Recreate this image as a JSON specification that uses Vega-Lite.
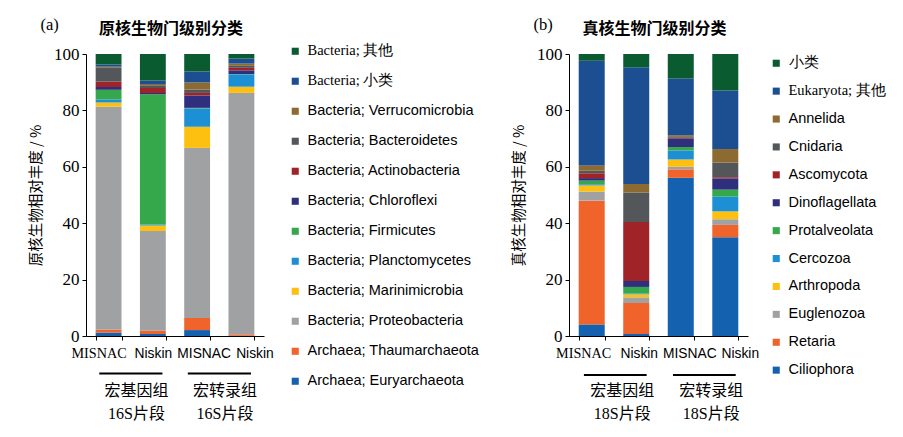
{
"$schema": "https://vega.github.io/schema/vega-lite/v6.json",
"padding": {"left": 28, "top": 16, "right": 5, "bottom": 5},
"background": "white",
"config": {
  "view": {"stroke": null},
  "axis": {"domainColor": "#000", "tickColor": "#000", "labelColor": "#000", "titleColor": "#000", "grid": false},
  "concat": {"spacing": 31}
},
"datasets": {
  "a": [
    {"s":"MISNAC|G","c":"Archaea; Euryarchaeota","v":1.2,"o":0},
    {"s":"MISNAC|G","c":"Archaea; Thaumarchaeota","v":1.1,"o":1},
    {"s":"MISNAC|G","c":"Bacteria; Proteobacteria","v":79.0,"o":2},
    {"s":"MISNAC|G","c":"Bacteria; Marinimicrobia","v":1.5,"o":3},
    {"s":"MISNAC|G","c":"Bacteria; Planctomycetes","v":1.1,"o":4},
    {"s":"MISNAC|G","c":"Bacteria; Firmicutes","v":3.4,"o":5},
    {"s":"MISNAC|G","c":"Bacteria; Chloroflexi","v":1.0,"o":6},
    {"s":"MISNAC|G","c":"Bacteria; Actinobacteria","v":1.9,"o":7},
    {"s":"MISNAC|G","c":"Bacteria; Bacteroidetes","v":4.9,"o":8},
    {"s":"MISNAC|G","c":"Bacteria; Verrucomicrobia","v":0.4,"o":9},
    {"s":"MISNAC|G","c":"Bacteria; 小类","v":0.8,"o":10},
    {"s":"MISNAC|G","c":"Bacteria; 其他","v":3.7,"o":11},
    {"s":"Niskin|G","c":"Archaea; Euryarchaeota","v":0.7,"o":0},
    {"s":"Niskin|G","c":"Archaea; Thaumarchaeota","v":1.2,"o":1},
    {"s":"Niskin|G","c":"Bacteria; Proteobacteria","v":35.3,"o":2},
    {"s":"Niskin|G","c":"Bacteria; Marinimicrobia","v":2.0,"o":3},
    {"s":"Niskin|G","c":"Bacteria; Planctomycetes","v":0.3,"o":4},
    {"s":"Niskin|G","c":"Bacteria; Firmicutes","v":46.2,"o":5},
    {"s":"Niskin|G","c":"Bacteria; Chloroflexi","v":0.5,"o":6},
    {"s":"Niskin|G","c":"Bacteria; Actinobacteria","v":1.7,"o":7},
    {"s":"Niskin|G","c":"Bacteria; Bacteroidetes","v":1.0,"o":8},
    {"s":"Niskin|G","c":"Bacteria; Verrucomicrobia","v":0.5,"o":9},
    {"s":"Niskin|G","c":"Bacteria; 小类","v":1.2,"o":10},
    {"s":"Niskin|G","c":"Bacteria; 其他","v":9.4,"o":11},
    {"s":"MISNAC|T","c":"Archaea; Euryarchaeota","v":2.1,"o":0},
    {"s":"MISNAC|T","c":"Archaea; Thaumarchaeota","v":4.3,"o":1},
    {"s":"MISNAC|T","c":"Bacteria; Proteobacteria","v":60.3,"o":2},
    {"s":"MISNAC|T","c":"Bacteria; Marinimicrobia","v":7.5,"o":3},
    {"s":"MISNAC|T","c":"Bacteria; Planctomycetes","v":6.5,"o":4},
    {"s":"MISNAC|T","c":"Bacteria; Firmicutes","v":0.2,"o":5},
    {"s":"MISNAC|T","c":"Bacteria; Chloroflexi","v":4.4,"o":6},
    {"s":"MISNAC|T","c":"Bacteria; Actinobacteria","v":0.9,"o":7},
    {"s":"MISNAC|T","c":"Bacteria; Bacteroidetes","v":1.2,"o":8},
    {"s":"MISNAC|T","c":"Bacteria; Verrucomicrobia","v":2.5,"o":9},
    {"s":"MISNAC|T","c":"Bacteria; 小类","v":3.9,"o":10},
    {"s":"MISNAC|T","c":"Bacteria; 其他","v":6.2,"o":11},
    {"s":"Niskin|T","c":"Archaea; Euryarchaeota","v":0.1,"o":0},
    {"s":"Niskin|T","c":"Archaea; Thaumarchaeota","v":0.5,"o":1},
    {"s":"Niskin|T","c":"Bacteria; Proteobacteria","v":85.6,"o":2},
    {"s":"Niskin|T","c":"Bacteria; Marinimicrobia","v":2.2,"o":3},
    {"s":"Niskin|T","c":"Bacteria; Planctomycetes","v":4.4,"o":4},
    {"s":"Niskin|T","c":"Bacteria; Firmicutes","v":0.1,"o":5},
    {"s":"Niskin|T","c":"Bacteria; Chloroflexi","v":1.3,"o":6},
    {"s":"Niskin|T","c":"Bacteria; Actinobacteria","v":0.9,"o":7},
    {"s":"Niskin|T","c":"Bacteria; Bacteroidetes","v":0.7,"o":8},
    {"s":"Niskin|T","c":"Bacteria; Verrucomicrobia","v":0.8,"o":9},
    {"s":"Niskin|T","c":"Bacteria; 小类","v":1.8,"o":10},
    {"s":"Niskin|T","c":"Bacteria; 其他","v":1.6,"o":11}
  ],
  "b": [
    {"s":"MISNAC|G","c":"Ciliophora","v":4.1,"o":0},
    {"s":"MISNAC|G","c":"Retaria","v":43.9,"o":1},
    {"s":"MISNAC|G","c":"Euglenozoa","v":3.2,"o":2},
    {"s":"MISNAC|G","c":"Arthropoda","v":2.2,"o":3},
    {"s":"MISNAC|G","c":"Cercozoa","v":0.4,"o":4},
    {"s":"MISNAC|G","c":"Protalveolata","v":1.3,"o":5},
    {"s":"MISNAC|G","c":"Dinoflagellata","v":0.9,"o":6},
    {"s":"MISNAC|G","c":"Ascomycota","v":1.7,"o":7},
    {"s":"MISNAC|G","c":"Cnidaria","v":0.9,"o":8},
    {"s":"MISNAC|G","c":"Annelida","v":1.9,"o":9},
    {"s":"MISNAC|G","c":"Eukaryota; 其他","v":37.1,"o":10},
    {"s":"MISNAC|G","c":"小类","v":2.4,"o":11},
    {"s":"Niskin|G","c":"Ciliophora","v":0.7,"o":0},
    {"s":"Niskin|G","c":"Retaria","v":11.0,"o":1},
    {"s":"Niskin|G","c":"Euglenozoa","v":2.0,"o":2},
    {"s":"Niskin|G","c":"Arthropoda","v":1.1,"o":3},
    {"s":"Niskin|G","c":"Cercozoa","v":0.3,"o":4},
    {"s":"Niskin|G","c":"Protalveolata","v":2.3,"o":5},
    {"s":"Niskin|G","c":"Dinoflagellata","v":2.1,"o":6},
    {"s":"Niskin|G","c":"Ascomycota","v":20.9,"o":7},
    {"s":"Niskin|G","c":"Cnidaria","v":10.5,"o":8},
    {"s":"Niskin|G","c":"Annelida","v":3.0,"o":9},
    {"s":"Niskin|G","c":"Eukaryota; 其他","v":41.4,"o":10},
    {"s":"Niskin|G","c":"小类","v":4.7,"o":11},
    {"s":"MISNAC|T","c":"Ciliophora","v":56.1,"o":0},
    {"s":"MISNAC|T","c":"Retaria","v":3.0,"o":1},
    {"s":"MISNAC|T","c":"Euglenozoa","v":0.9,"o":2},
    {"s":"MISNAC|T","c":"Arthropoda","v":2.6,"o":3},
    {"s":"MISNAC|T","c":"Cercozoa","v":3.2,"o":4},
    {"s":"MISNAC|T","c":"Protalveolata","v":1.2,"o":5},
    {"s":"MISNAC|T","c":"Dinoflagellata","v":3.1,"o":6},
    {"s":"MISNAC|T","c":"Ascomycota","v":0.2,"o":7},
    {"s":"MISNAC|T","c":"Cnidaria","v":0.3,"o":8},
    {"s":"MISNAC|T","c":"Annelida","v":0.6,"o":9},
    {"s":"MISNAC|T","c":"Eukaryota; 其他","v":20.1,"o":10},
    {"s":"MISNAC|T","c":"小类","v":8.7,"o":11},
    {"s":"Niskin|T","c":"Ciliophora","v":35.0,"o":0},
    {"s":"Niskin|T","c":"Retaria","v":4.4,"o":1},
    {"s":"Niskin|T","c":"Euglenozoa","v":2.0,"o":2},
    {"s":"Niskin|T","c":"Arthropoda","v":2.8,"o":3},
    {"s":"Niskin|T","c":"Cercozoa","v":5.2,"o":4},
    {"s":"Niskin|T","c":"Protalveolata","v":2.5,"o":5},
    {"s":"Niskin|T","c":"Dinoflagellata","v":4.0,"o":6},
    {"s":"Niskin|T","c":"Ascomycota","v":0.4,"o":7},
    {"s":"Niskin|T","c":"Cnidaria","v":5.2,"o":8},
    {"s":"Niskin|T","c":"Annelida","v":4.8,"o":9},
    {"s":"Niskin|T","c":"Eukaryota; 其他","v":20.8,"o":10},
    {"s":"Niskin|T","c":"小类","v":12.9,"o":11}
  ],
  "ga": [
    {"start":"MISNAC|G","end":"Niskin|G","g":"宏基因组\n16S片段"},
    {"start":"MISNAC|T","end":"Niskin|T","g":"宏转录组\n16S片段"}
  ],
  "gb": [
    {"start":"MISNAC|G","end":"Niskin|G","g":"宏基因组\n18S片段"},
    {"start":"MISNAC|T","end":"Niskin|T","g":"宏转录组\n18S片段"}
  ]
},
"resolve": {"scale": {"color": "independent", "x": "independent", "y": "independent"}},
"hconcat": [
  {
    "title": {"text": "(a)", "anchor": "start", "font": "Liberation Serif", "fontSize": 16.5, "fontWeight": "normal", "color": "#000", "offset": 0, "dx": 12, "dy": 12},
    "vconcat": [
      {
        "width": 178, "height": 282,
        "title": {"text": "原核生物门级别分类", "frame": "group", "anchor": "middle", "font": "Noto Sans CJK SC", "fontSize": 16, "fontWeight": "bold", "color": "#000", "offset": 8, "dx": -4},
        "layer": [
          {
            "data": {"name": "a"},
            "mark": {"type": "bar"},
            "encoding": {
              "x": {"field": "s", "type": "nominal", "sort": null,
                "scale": {"domain": ["MISNAC|G","Niskin|G","MISNAC|T","Niskin|T"], "paddingInner": 0.416, "paddingOuter": 0.218},
                "axis": {"title": null, "labelAngle": 0, "labelExpr": "split(datum.label, '|')[0]", "tickBand": "extent", "tickSize": 4, "labelPadding": 6, "labelOverlap": false,
                  "labelFont": {"condition": {"test": "datum.value === 'MISNAC|G'", "value": "Liberation Serif"}, "value": "Liberation Sans"},
                  "labelFontSize": {"condition": {"test": "datum.value === 'MISNAC|G'", "value": 14.2}, "value": 13.8},
                  "labelOffset": {"condition": [
                    {"test": "datum.value === 'MISNAC|G'", "value": -10},
                    {"test": "datum.value === 'MISNAC|T'", "value": 6.5},
                    {"test": "datum.value === 'Niskin|T'", "value": 13}], "value": 0}}},
              "y": {"field": "v", "type": "quantitative", "stack": "zero",
                "scale": {"domain": [0, 100], "nice": false},
                "axis": {"title": "原核生物相对丰度 / %", "values": [0,10,20,30,40,50,60,70,80,90,100], "labelExpr": "datum.value % 20 === 0 ? datum.label : ''",
                  "labelFont": "Liberation Serif", "labelFontSize": 17, "tickSize": 4, "labelPadding": 3,
                  "titleFont": "Noto Sans CJK SC", "titleFontSize": 14.5, "titleFontWeight": "normal", "titlePadding": 10}},
              "color": {"field": "c", "type": "nominal",
                "scale": {"domain": ["Bacteria; 其他","Bacteria; 小类","Bacteria; Verrucomicrobia","Bacteria; Bacteroidetes","Bacteria; Actinobacteria","Bacteria; Chloroflexi","Bacteria; Firmicutes","Bacteria; Planctomycetes","Bacteria; Marinimicrobia","Bacteria; Proteobacteria","Archaea; Thaumarchaeota","Archaea; Euryarchaeota"],
                  "range": ["#0b5b31","#1b4f91","#8d6a32","#53575a","#a02328","#2f2f7e","#34a84a","#1d90d5","#fdbf10","#a0a1a3","#f0632a","#1461b0"]},
                "legend": {"title": null, "orient": "none", "legendX": 202, "legendY": -10, "symbolType": "square", "symbolSize": 50, "symbolStrokeWidth": 0,
                  "labelFont": "Liberation Sans", "labelFontSize": 14.5, "labelColor": "#000", "rowPadding": 15, "labelOffset": 5, "labelLimit": 300, "padding": 0,
                  "encode": {"labels": {"update": {"font": {"signal": "indexof(datum.label, '其他') >= 0 || indexof(datum.label, '小类') >= 0 ? 'Liberation Serif' : 'Liberation Sans'"}}}}}},
              "order": {"field": "o", "type": "quantitative"}
            }
          },
          {
            "data": {"name": "ga"},
            "mark": {"type": "rule", "strokeWidth": 2, "color": "#000"},
            "encoding": {
              "x": {"field": "start", "type": "nominal", "bandPosition": 0.14},
              "x2": {"field": "end", "bandPosition": 0.87},
              "y": {"datum": -13.3}
            }
          },
          {
            "data": {"name": "ga"},
            "mark": {"type": "text", "lineBreak": "\n", "lineHeight": 23, "font": "Liberation Serif, Noto Sans CJK SC", "fontSize": 16, "color": "#000", "align": "center", "baseline": "top", "dx": -3.5},
            "encoding": {
              "x": {"field": "end", "type": "nominal", "bandPosition": 0},
              "y": {"datum": -16.8},
              "text": {"field": "g"}
            }
          }
        ]
      }
    ]
  },
  {
    "title": {"text": "(b)", "anchor": "start", "font": "Liberation Serif", "fontSize": 16.5, "fontWeight": "normal", "color": "#000", "offset": 0, "dx": 22, "dy": 12},
    "vconcat": [
      {
        "width": 179, "height": 282,
        "title": {"text": "真核生物门级别分类", "frame": "group", "anchor": "middle", "font": "Noto Sans CJK SC", "fontSize": 16, "fontWeight": "bold", "color": "#000", "offset": 8, "dx": -4},
        "layer": [
          {
            "data": {"name": "b"},
            "mark": {"type": "bar"},
            "encoding": {
              "x": {"field": "s", "type": "nominal", "sort": null,
                "scale": {"domain": ["MISNAC|G","Niskin|G","MISNAC|T","Niskin|T"], "paddingInner": 0.416, "paddingOuter": 0.218},
                "axis": {"title": null, "labelAngle": 0, "labelExpr": "split(datum.label, '|')[0]", "tickBand": "extent", "tickSize": 4, "labelPadding": 6, "labelOverlap": false,
                  "labelFont": {"condition": {"test": "datum.value === 'MISNAC|G'", "value": "Liberation Serif"}, "value": "Liberation Sans"},
                  "labelFontSize": {"condition": {"test": "datum.value === 'MISNAC|G'", "value": 14.2}, "value": 13.8},
                  "labelOffset": {"condition": [
                    {"test": "datum.value === 'MISNAC|G'", "value": -8.5},
                    {"test": "datum.value === 'Niskin|G'", "value": 2.5},
                    {"test": "datum.value === 'MISNAC|T'", "value": 8.5},
                    {"test": "datum.value === 'Niskin|T'", "value": 14.5}], "value": 0}}},
              "y": {"field": "v", "type": "quantitative", "stack": "zero",
                "scale": {"domain": [0, 100], "nice": false},
                "axis": {"title": "真核生物相对丰度 / %", "values": [0,10,20,30,40,50,60,70,80,90,100], "labelExpr": "datum.value % 20 === 0 ? datum.label : ''",
                  "labelFont": "Liberation Serif", "labelFontSize": 17, "tickSize": 4, "labelPadding": 3,
                  "titleFont": "Noto Sans CJK SC", "titleFontSize": 14.5, "titleFontWeight": "normal", "titlePadding": 10}},
              "color": {"field": "c", "type": "nominal",
                "scale": {"domain": ["小类","Eukaryota; 其他","Annelida","Cnidaria","Ascomycota","Dinoflagellata","Protalveolata","Cercozoa","Arthropoda","Euglenozoa","Retaria","Ciliophora"],
                  "range": ["#0b5b31","#1b4f91","#8d6a32","#53575a","#a02328","#2f2f7e","#34a84a","#1d90d5","#fdbf10","#a0a1a3","#f0632a","#1461b0"]},
                "legend": {"title": null, "orient": "none", "legendX": 200, "legendY": 2, "symbolType": "square", "symbolSize": 50, "symbolStrokeWidth": 0,
                  "labelFont": "Liberation Sans", "labelFontSize": 14.5, "labelColor": "#000", "rowPadding": 12.9, "labelOffset": 5, "labelLimit": 300, "padding": 0,
                  "encode": {"labels": {"update": {"font": {"signal": "indexof(datum.label, '其他') >= 0 ? 'Liberation Serif' : 'Liberation Sans'"}}}}}},
              "order": {"field": "o", "type": "quantitative"}
            }
          },
          {
            "data": {"name": "gb"},
            "mark": {"type": "rule", "strokeWidth": 2, "color": "#000"},
            "encoding": {
              "x": {"field": "start", "type": "nominal", "bandPosition": 0.2},
              "x2": {"field": "end", "bandPosition": 0.9},
              "y": {"datum": -13.8}
            }
          },
          {
            "data": {"name": "gb"},
            "mark": {"type": "text", "lineBreak": "\n", "lineHeight": 23, "font": "Liberation Serif, Noto Sans CJK SC", "fontSize": 16, "color": "#000", "align": "center", "baseline": "top", "dx": -1},
            "encoding": {
              "x": {"field": "end", "type": "nominal", "bandPosition": 0},
              "y": {"datum": -16.8},
              "text": {"field": "g"}
            }
          }
        ]
      }
    ]
  }
]
}
